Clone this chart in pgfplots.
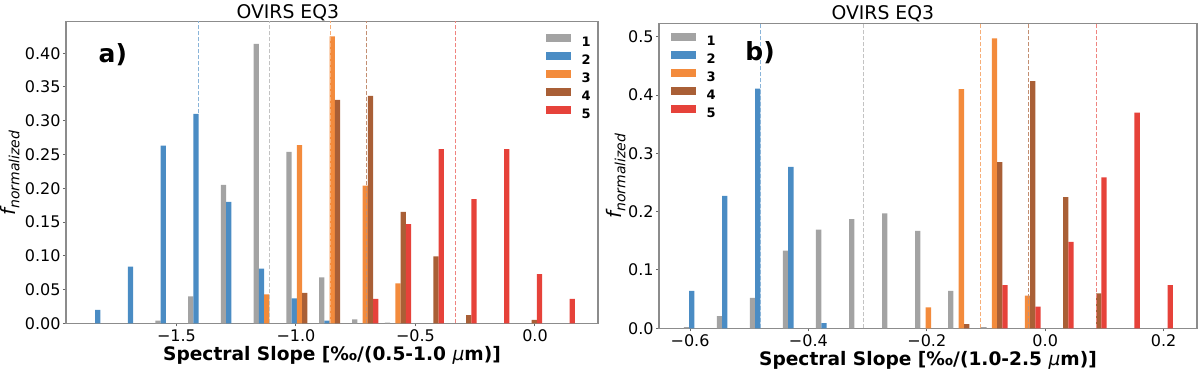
\documentclass[border=0pt]{standalone}
\usepackage{pgfplots}
\pgfplotsset{compat=1.18}
\usepackage{fontspec}
\setmainfont{DejaVu Sans}[ItalicFont={DejaVu Sans Oblique},BoldFont={DejaVu Sans Bold},BoldItalicFont={DejaVu Sans Bold Oblique}]

\definecolor{c1}{HTML}{A3A3A3}
\definecolor{c2}{HTML}{4A8CC4}
\definecolor{c3}{HTML}{F38B3C}
\definecolor{c4}{HTML}{A95F36}
\definecolor{c5}{HTML}{E6423A}

\pgfplotsset{
  panel/.style={
    scale only axis, anchor=south west,
    enlargelimits=false, clip mode=individual,
    axis line style={black!45, line width=0.6pt},
    tick align=outside, xtick pos=left, ytick pos=left,
    major tick length=1.5pt,
    tick style={black!60, line width=0.5pt},
    ticklabel style={font=\fontsize{8}{9.6}\selectfont},
    xticklabel style={inner sep=1.5pt},
    yticklabel style={inner sep=1pt},
    xlabel style={font=\bfseries\fontsize{9.3}{11}\selectfont, at={(axis description cs:0.5,0)}, anchor=base, yshift=-18.8pt},
    ylabel style={at={(axis description cs:0,0.5)}, anchor=center},
    ylabel={\fontsize{10}{12}\selectfont\itshape f\textsubscript{normalized}},
    legend style={draw=none, fill=none, inner sep=0pt, row sep=2.4pt,
      font=\bfseries\fontsize{6.5}{7}\selectfont,
      nodes={inner sep=0pt, text height=4.6pt, text depth=0pt},
      /tikz/every odd column/.style={column sep=5.5pt}},
    legend cell align=left,
    legend image code/.code={\fill[##1] (0pt,0.3pt) rectangle (12.3pt,4.3pt);},
  },
  mean/.style={forget plot, line width=0.5pt, dash pattern=on 2pt off 1pt},
}
\tikzset{ttl/.style={anchor=base, yshift=1.9pt, font=\fontsize{9.4}{11}\selectfont}}

\begin{document}
\begin{tikzpicture}
\useasboundingbox (0,0) rectangle (600pt,188pt);

% ---- panel a) ----
\begin{axis}[panel, at={(33pt,26.35pt)}, width=266pt, height=150.7pt,
  xmin=-1.962, xmax=0.2636, ymin=0, ymax=0.4464,
  bar width=0.02194,
  xtick={-1.5,-1.0,-0.5,0.0}, xticklabels={−1.5,−1.0,−0.5,0.0},
  ytick={0,0.05,0.10,0.15,0.20,0.25,0.30,0.35,0.40},
  yticklabels={0.00,0.05,0.10,0.15,0.20,0.25,0.30,0.35,0.40},
  xlabel={Spectral Slope [‰/(0.5-1.0 {\mdseries\itshape μ}m)]},
  ylabel style={yshift=28pt},
  legend style={at={(rel axis cs:0.9017,0.9625)}, anchor=north west},
]
\addplot[ybar, draw=none, fill=c1, bar shift=-0.04389] coordinates {
  (-1.5334,0.004) (-1.3963,0.040) (-1.2591,0.205) (-1.1220,0.414)
  (-0.9848,0.254) (-0.8477,0.068) (-0.7105,0.006) (-0.5734,0.001)};
\addlegendentry{1}
\addplot[ybar, draw=none, fill=c2, bar shift=-0.02194] coordinates {
  (-1.8077,0.020) (-1.6706,0.084) (-1.5334,0.263) (-1.3963,0.310)
  (-1.2591,0.180) (-1.1220,0.081) (-0.9848,0.037) (-0.8477,0.004)};
\addlegendentry{2}
\addplot[ybar, draw=none, fill=c3, bar shift=0] coordinates {
  (-1.1220,0.043) (-0.9848,0.264) (-0.8477,0.425) (-0.7105,0.204) (-0.5734,0.059)};
\addlegendentry{3}
\addplot[ybar, draw=none, fill=c4, bar shift=0.02194] coordinates {
  (-0.9848,0.045) (-0.8477,0.331) (-0.7105,0.337) (-0.5734,0.165)
  (-0.4362,0.099) (-0.2991,0.012) (-0.0248,0.005)};
\addlegendentry{4}
\addplot[ybar, draw=none, fill=c5, bar shift=0.04389] coordinates {
  (-0.7105,0.036) (-0.5734,0.147) (-0.4362,0.258) (-0.2991,0.184)
  (-0.1619,0.258) (-0.0248,0.073) (0.1124,0.036)};
\addlegendentry{5}
\addplot[mean, c1!65] coordinates {(-1.109,0) (-1.109,1)};
\addplot[mean, c2!65] coordinates {(-1.406,0) (-1.406,1)};
\addplot[mean, c3!70] coordinates {(-0.855,0) (-0.855,1)};
\addplot[mean, c4!70] coordinates {(-0.704,0) (-0.704,1)};
\addplot[mean, c5!65] coordinates {(-0.331,0) (-0.331,1)};
\node[font=\bfseries\fontsize{12.5}{14}\selectfont] at (rel axis cs:0.088,0.89) {a)};
\node[ttl] at (rel axis cs:0.417,1) {OVIRS EQ3};
\end{axis}

% ---- panel b) ----
\begin{axis}[panel, at={(329.5pt,23.85pt)}, width=269pt, height=152.5pt,
  xmin=-0.6524, xmax=0.2564, ymin=0, ymax=0.523,
  bar width=0.00893,
  xtick={-0.6,-0.4,-0.2,0.0,0.2}, xticklabels={−0.6,−0.4,−0.2,0.0,0.2},
  ytick={0,0.1,0.2,0.3,0.4,0.5},
  yticklabels={0.0,0.1,0.2,0.3,0.4,0.5},
  xlabel={Spectral Slope [‰/(1.0-2.5 {\mdseries\itshape μ}m)]},
  ylabel style={yshift=21.5pt},
  legend style={at={(rel axis cs:0.0217,0.971)}, anchor=north west},
]
\addplot[ybar, draw=none, fill=c1, bar shift=-0.01786] coordinates {
  (-0.5881,0.002) (-0.5323,0.021) (-0.4765,0.052) (-0.4207,0.133)
  (-0.3649,0.169) (-0.3091,0.187) (-0.2532,0.197) (-0.1974,0.167)
  (-0.1416,0.064) (-0.0858,0.002)};
\addlegendentry{1}
\addplot[ybar, draw=none, fill=c2, bar shift=-0.00893] coordinates {
  (-0.5881,0.064) (-0.5323,0.227) (-0.4765,0.411) (-0.4207,0.277) (-0.3649,0.009)};
\addlegendentry{2}
\addplot[ybar, draw=none, fill=c3, bar shift=0] coordinates {
  (-0.1974,0.036) (-0.1416,0.410) (-0.0858,0.497) (-0.0300,0.056)};
\addlegendentry{3}
\addplot[ybar, draw=none, fill=c4, bar shift=0.00893] coordinates {
  (-0.1416,0.007) (-0.0858,0.285) (-0.0300,0.424) (0.0258,0.225) (0.0816,0.060)};
\addlegendentry{4}
\addplot[ybar, draw=none, fill=c5, bar shift=0.01786] coordinates {
  (-0.0858,0.074) (-0.0300,0.037) (0.0258,0.148) (0.0816,0.259)
  (0.1374,0.370) (0.1932,0.074)};
\addlegendentry{5}
\addplot[mean, c1!65] coordinates {(-0.3070,0) (-0.3070,1)};
\addplot[mean, c2!65] coordinates {(-0.4817,0) (-0.4817,1)};
\addplot[mean, c3!70] coordinates {(-0.1099,0) (-0.1099,1)};
\addplot[mean, c4!70] coordinates {(-0.0282,0) (-0.0282,1)};
\addplot[mean, c5!65] coordinates {(0.0873,0) (0.0873,1)};
\node[font=\bfseries\fontsize{12.5}{14}\selectfont] at (rel axis cs:0.188,0.903) {b)};
\node[ttl] at (rel axis cs:0.416,1) {OVIRS EQ3};
\end{axis}
\end{tikzpicture}
\end{document}
